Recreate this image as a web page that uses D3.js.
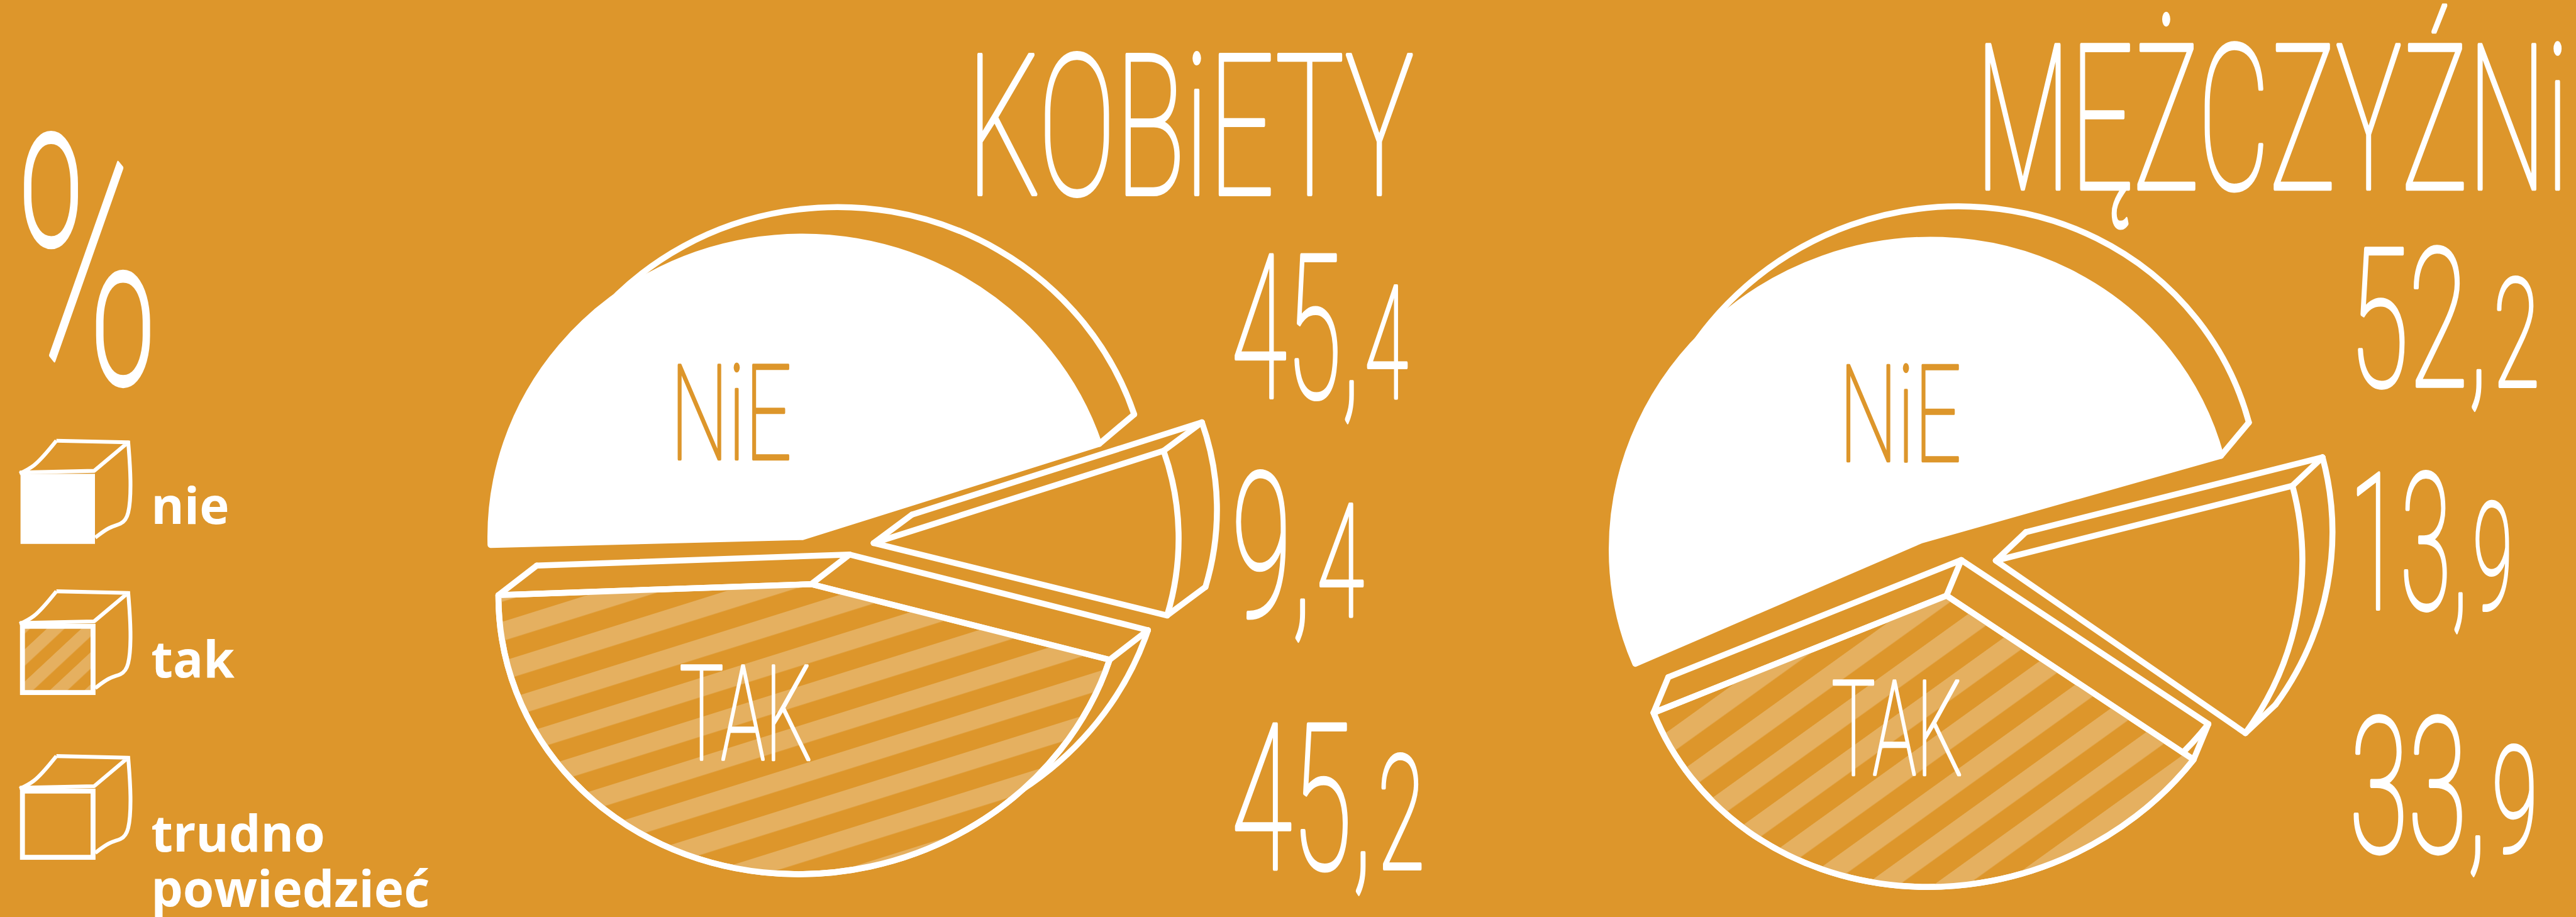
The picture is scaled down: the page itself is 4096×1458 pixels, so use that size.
<!DOCTYPE html>
<html><head><meta charset="utf-8">
<script src="https://cdn.jsdelivr.net/npm/d3@7/dist/d3.min.js"></script>
<style>html,body{margin:0;padding:0;background:#DD962B;overflow:hidden}svg{display:block}</style>
</head><body><svg id="c"></svg>
<script>
// ---- data ----
const categories = ["nie", "trudno powiedzieć", "tak"];
const kobiety = [45.4, 9.4, 45.2];
const mezczyzni = [52.2, 13.9, 33.9];
const groupTitles = ["KOBiETY", "MĘŻCZYŹNi"];
const sliceLabels = ["NiE", "TAK"];
const legendLabels = [["nie"], ["tak"], ["trudno", "powiedzieć"]];
const legendKinds = ["nie", "tak", "trudno powiedzieć"];

// ---- layout & style (reference px) ----
const W = 4706, H = 1675, BG = "#DD962B", WHITE = "#fff", HATCH = "#E5B060";
const HAND = "Roboto, sans-serif";
const R = 560, SW = 9.5;
const CAP = 0.711;

// edges: which radial edges of the rear face show, rim: share of the rear rim that shows
const pies = [
  { values: kobiety, start: -91.5, hatch: { angle: -17.4, period: 68.7, band: 33.6, ox: 917, oy: 1136 },
    slices: [
      { c: [1466, 981], m: [1.018, 0, 0, 0.98], d: [64, -54], edges: [], rim: 1, links: ["end"] },
      { c: [1596, 992], m: [0.995, -0.0156, 0, 0.923], d: [70, -52], edges: ["start"], rim: 1, links: ["start", "end", "apex"] },
      { c: [1482, 1067], m: [1.02, -0.011, -0.03, 0.946], d: [70, -54], edges: ["start", "end"], rim: 0.4, links: ["start", "end", "apex"] }
    ] },
  { values: mezczyzni, start: -112.5, hatch: { angle: -35.7, period: 73, band: 36, ox: 3047, oy: 1336 },
    slices: [
      { c: [3510, 987], m: [1.01, -0.03, 0, 0.98], d: [51, -61], edges: [], rim: 1, links: ["end"] },
      { c: [3646, 1024], m: [1, 0, 0, 0.97], d: [55, -52], edges: ["start"], rim: 1, links: ["start", "end", "apex"] },
      { c: [3556, 1088], m: [1.018, -0.02, -0.04, 0.95], d: [27, -65], edges: ["start", "end"], rim: 0.3, links: ["start", "end", "apex"] }
    ] }
];
const titleBoxes = [[1767, 2583, 100, 355], [3609, 4693, 82, 345]];
const valueBoxes = [
  [[2250, 2563, 466, 726], [2250, 2482, 864, 1125], [2250, 2593, 1323, 1587]],
  [[4292, 4630, 454, 705], [4292, 4582, 865, 1112], [4292, 4627, 1311, 1556]]
];
const labelBoxes = [
  [[1225, 1446, 667, 839, BG], [1241, 1484, 1216, 1388, WHITE]],
  [[3360, 3583, 668, 842, BG], [3346, 3586, 1243, 1415, WHITE]]
];
const percentBox = [26, 292, 249, 699];
const legendTops = [802, 1077, 1378];
const legendTextX = 276, legendFont = 92, legendLine = 101;
const legendBaselines = [957, 1237.6, 1555.6];

// ---- drawing ----
const svg = d3.select("#c").attr("width", 4096).attr("height", 1458)
  .attr("viewBox", `0 0 ${W} ${H}`).attr("preserveAspectRatio", "none");
svg.append("rect").attr("width", W).attr("height", H).attr("fill", BG);
const defs = svg.append("defs");
const rad = d => d * Math.PI / 180;
const line = d3.line();

function makeHatch(id, h) {
  const p = defs.append("pattern").attr("id", id).attr("patternUnits", "userSpaceOnUse")
    .attr("width", 40).attr("height", h.period)
    .attr("patternTransform", `translate(${h.ox},${h.oy}) rotate(${h.angle})`);
  p.append("rect").attr("width", 40).attr("height", h.band).attr("fill", HATCH);
}

pies.forEach((pieDef, pi) => {
  const hid = `hatch${pi}`;
  makeHatch(hid, pieDef.hatch);
  const arcs = d3.pie().sort(null).startAngle(rad(pieDef.start)).endAngle(rad(pieDef.start + 360))(pieDef.values);
  const arc = d3.arc().innerRadius(0).outerRadius(R);
  const rimArc = d3.arc().innerRadius(R).outerRadius(R);
  const g = svg.append("g");
  arcs.forEach((a, i) => {
    const s = pieDef.slices[i], m = s.m;
    const mat = (c) => `matrix(${m[0]},${m[1]},${m[2]},${m[3]},${c[0]},${c[1]})`;
    const pt = (ang, r) => {
      const x = r * Math.sin(ang), y = -r * Math.cos(ang);
      return [s.c[0] + m[0] * x + m[2] * y, s.c[1] + m[1] * x + m[3] * y];
    };
    const stroke = sel => sel.attr("stroke", WHITE).attr("stroke-width", SW).attr("fill", "none")
      .attr("vector-effect", "non-scaling-stroke").attr("stroke-linejoin", "round").attr("stroke-linecap", "round");
    const ang = { start: a.startAngle, end: a.endAngle };
    const back = [s.c[0] + s.d[0], s.c[1] + s.d[1]];
    const shift = q => [q[0] + s.d[0], q[1] + s.d[1]];
    // rear rim: runs from the slice's clockwise start, only as far as it shows
    g.append("path").attr("d", rimArc({ startAngle: a.startAngle, endAngle: a.startAngle + (a.endAngle - a.startAngle) * s.rim }))
      .attr("transform", mat(back)).call(stroke);
    // rear radial edges
    s.edges.forEach(e => g.append("path").attr("d", line([shift(pt(0, 0)), shift(pt(ang[e], R))])).call(stroke));
    // depth connectors
    s.links.forEach(l => {
      const q = l === "apex" ? pt(0, 0) : pt(ang[l], R);
      g.append("path").attr("d", line([q, shift(q)])).call(stroke);
    });
    // front face
    const kind = categories[i];
    g.append("path").attr("d", arc(a)).attr("transform", mat(s.c)).call(stroke)
      .attr("fill", kind === "nie" ? WHITE : BG);
    if (kind === "tak") {
      const cid = `clip${pi}`;
      defs.append("clipPath").attr("id", cid).append("path").attr("d", arc(a)).attr("transform", mat(s.c));
      g.append("rect").attr("width", W).attr("height", H).attr("fill", `url(#${hid})`).attr("clip-path", `url(#${cid})`);
      g.append("path").attr("d", arc(a)).attr("transform", mat(s.c)).call(stroke);
    }
  });
});

// hand-style text fitted into its box
function fit(sel, b, color, extra) {
  const [x0, x1, top, bottom] = b;
  const fs = (bottom - top) / CAP;
  sel.attr("font-family", HAND).attr("font-weight", 100).attr("font-size", fs).attr("fill", color)
    .attr("stroke", color).attr("stroke-width", extra).attr("stroke-linejoin", "round");
  const len = sel.node().getComputedTextLength();
  sel.attr("transform", `translate(${x0},${bottom}) scale(${(x1 - x0) / len},1)`);
}
groupTitles.forEach((t, i) => fit(svg.append("text").text(t), titleBoxes[i], WHITE, 7));
sliceLabels.forEach((t, l) => [0, 1].forEach(i => {
  const b = labelBoxes[i][l];
  fit(svg.append("text").text(t), b, b[4], 5);
}));
const comma = d3.format(".1f");
[kobiety, mezczyzni].forEach((vals, i) => vals.forEach((v, j) => {
  const [a, dec] = comma(v).split(".");
  const t = svg.append("text");
  t.append("tspan").text(a + ",");
  t.append("tspan").attr("font-size", "78%").attr("dx", "0.06em").text(dec);
  fit(t, valueBoxes[i][j], WHITE, 7);
}));
fit(svg.append("text").text("%"), percentBox, WHITE, 7);

// legend
legendKinds.forEach((kind, i) => {
  const g = svg.append("g").attr("transform", `translate(0,${legendTops[i] - 802})`);
  const st = sel => sel.attr("fill", "none").attr("stroke", WHITE).attr("stroke-width", 7).attr("stroke-linejoin", "round");
  g.append("path").attr("d", d3.line().curve(d3.curveMonotoneX)([[36, 865], [62, 850], [103, 805]])).call(st);
  g.append("path").attr("d", line([[103, 805], [234, 808], [172, 860], [36, 863]])).call(st);
  g.append("path").attr("d", d3.line().curve(d3.curveBasis)([[234, 805], [240, 880], [236, 945], [221, 958], [200, 962], [174, 982]])).call(st);
  const box = g.append("rect").attr("x", 41).attr("y", 869).attr("width", 129).attr("height", 121);
  if (kind === "nie") box.attr("fill", WHITE).call(s => s.attr("stroke", WHITE).attr("stroke-width", 7));
  else {
    if (kind === "tak") {
      const id = "hatchL";
      makeHatch(id, { angle: -43, period: 43, band: 22, ox: 86, oy: 873 });
      box.attr("fill", `url(#${id})`);
    } else box.attr("fill", "none");
    box.attr("stroke", WHITE).attr("stroke-width", 9);
  }
  legendLabels[i].forEach((t, k) => svg.append("text").text(t)
    .attr("x", legendTextX)
    .attr("y", legendBaselines[i] + k * legendLine)
    .attr("font-family", "'Open Sans', sans-serif").attr("font-weight", 700)
    .attr("font-size", legendFont).attr("fill", WHITE));
});
</script></body></html>
